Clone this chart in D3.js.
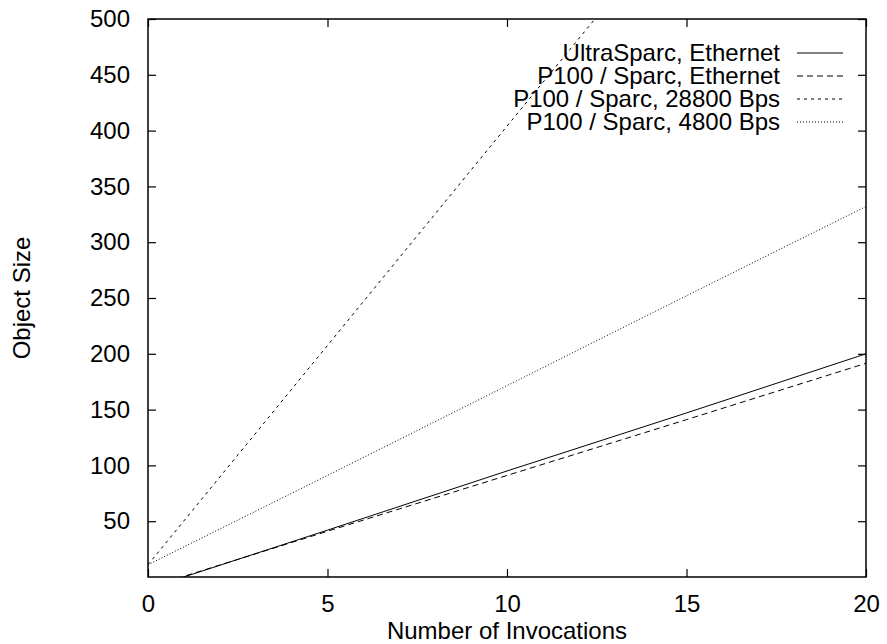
<!DOCTYPE html>
<html>
<head>
<meta charset="utf-8">
<script src="https://cdn.jsdelivr.net/npm/d3@7"></script>
<style>
  body { margin: 0; background: #fff; }
  text { font-family: "Liberation Sans", Arial, sans-serif; fill: #000; }
</style>
</head>
<body>
<svg width="887" height="644"></svg>
<script>
// values, at x = 0, 5, 10, 15, 20
let invocations = [0, 5, 10, 15, 20];
let ultraEthernet = [-10.5, 42, 95, 147, 200];
let p100Ethernet = [-9.5, 41, 91, 141, 191.5];
let p100Bps28800 = [11, 207.5, 404, 600, 797];
let p100Bps4800 = [11, 91, 171.5, 252, 332];

let seriesNames = ['UltraSparc, Ethernet', 'P100 / Sparc, Ethernet', 'P100 / Sparc, 28800 Bps', 'P100 / Sparc, 4800 Bps'];
let xTicks = [0, 5, 10, 15, 20];
let yTicks = [50, 100, 150, 200, 250, 300, 350, 400, 450, 500];

let series = [ultraEthernet, p100Ethernet, p100Bps28800, p100Bps4800].map((vals, i) => ({
  name: seriesNames[i],
  points: vals.map((v, j) => ({ x: invocations[j], y: v }))
}));
let dashes = [null, '6,4', '3,4', '1,2'];

var svg = d3.select("svg");
let plotLeft = 148, plotRight = 866, plotTop = 19, plotBottom = 577;

let x = d3.scaleLinear().domain([0, 20]).range([plotLeft, plotRight]);
let y = d3.scaleLinear().domain([0, 500]).range([plotBottom, plotTop]);

svg.append('defs').append('clipPath').attr('id', 'plotclip')
  .append('rect')
  .attr('x', plotLeft).attr('y', plotTop)
  .attr('width', plotRight - plotLeft).attr('height', plotBottom - plotTop);

let tickLen = 8;
let fontSize = 24;

// axes with inward ticks, mirrored on top and right
let axisB = svg.append('g').attr('transform', translate(0, plotBottom))
  .call(d3.axisBottom(x).tickValues(xTicks).tickSizeInner(-tickLen).tickSizeOuter(0).tickPadding(18));
let axisT = svg.append('g').attr('transform', translate(0, plotTop))
  .call(d3.axisTop(x).tickValues(xTicks).tickSizeInner(-tickLen).tickSizeOuter(0).tickFormat(''));
let axisL = svg.append('g').attr('transform', translate(plotLeft, 0))
  .call(d3.axisLeft(y).tickValues(yTicks).tickSizeInner(-tickLen).tickSizeOuter(0).tickPadding(18));
let axisR = svg.append('g').attr('transform', translate(plotRight, 0))
  .call(d3.axisRight(y).tickValues(yTicks).tickSizeInner(-tickLen).tickSizeOuter(0).tickFormat(''));

[axisB, axisT, axisL, axisR].forEach(a => {
  a.select('.domain').remove();
  a.selectAll('line').attr('stroke', '#000').attr('stroke-width', 1.2);
  a.selectAll('text').attr('font-size', fontSize).attr('font-family', '"Liberation Sans", Arial, sans-serif');
});
axisB.selectAll('text').attr('dy', '0.71em');

let line = d3.line().x(d => x(d.x)).y(d => y(d.y));

let plot = svg.append('g').attr('clip-path', 'url(#plotclip)');
plot.selectAll('path')
  .data(series)
  .enter()
  .append('path')
  .attr('d', d => line(d.points))
  .attr('fill', 'none')
  .attr('stroke', '#000')
  .attr('stroke-width', 1)
  .attr('stroke-dasharray', (d, i) => dashes[i]);

// frame
svg.append('rect')
  .attr('x', plotLeft).attr('y', plotTop)
  .attr('width', plotRight - plotLeft).attr('height', plotBottom - plotTop)
  .attr('fill', 'none').attr('stroke', '#000').attr('stroke-width', 1.5);

// legend
let legend = svg.append('g');
series.forEach((s, i) => {
  let ly = 53 + i * 23;
  legend.append('text')
    .attr('x', 780).attr('y', ly)
    .attr('dy', '0.35em')
    .attr('text-anchor', 'end')
    .attr('font-size', fontSize)
    .text(s.name);
  legend.append('line')
    .attr('x1', 797).attr('x2', 843)
    .attr('y1', ly).attr('y2', ly)
    .attr('stroke', '#000')
    .attr('stroke-width', 1)
    .attr('stroke-dasharray', dashes[i]);
});

// axis titles
svg.append('text')
  .attr('x', (plotLeft + plotRight) / 2).attr('y', 631)
  .attr('dy', '0.35em')
  .attr('text-anchor', 'middle')
  .attr('font-size', fontSize)
  .text('Number of Invocations');

svg.append('text')
  .attr('transform', translate(22, (plotTop + plotBottom) / 2) + ' rotate(-90)')
  .attr('dy', '0.35em')
  .attr('text-anchor', 'middle')
  .attr('font-size', fontSize)
  .text('Object Size');

function translate(x, y) {
  return `translate(${x},${y})`;
}
</script>
</body>
</html>
